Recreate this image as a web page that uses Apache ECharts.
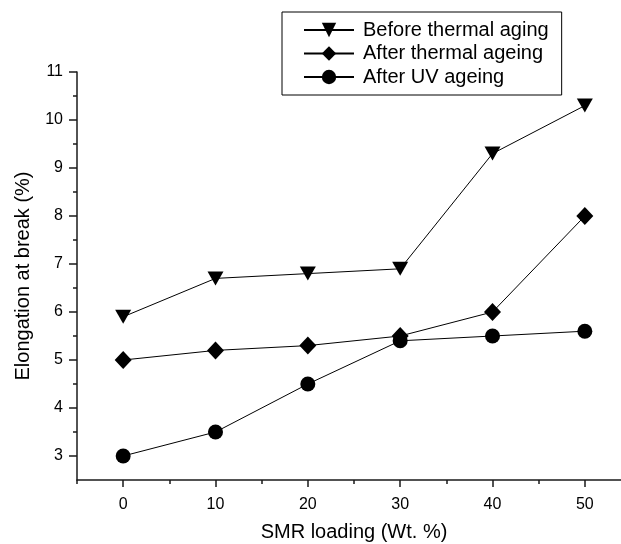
<!DOCTYPE html>
<html>
<head>
<meta charset="utf-8">
<script src="https://cdn.jsdelivr.net/npm/echarts@6/dist/echarts.min.js"></script>
<style>
  html, body { margin: 0; padding: 0; background: #fff; }
  #chart { width: 621px; height: 544px; }
</style>
</head>
<body>
<div id="chart"></div>
<script>
// SMR loading (Wt. %) on the x axis
var loading = [0, 10, 20, 30, 40, 50];
// elongation at break (%)
var beforeThermal = [5.9, 6.7, 6.8, 6.9, 9.3, 10.3];
var afterThermal = [5.0, 5.2, 5.3, 5.5, 6.0, 8.0];
var afterUV = [3.0, 3.5, 4.5, 5.4, 5.5, 5.6];
// tick positions
var xMajor = [0, 10, 20, 30, 40, 50];
var xMinor = [-5, 5, 15, 25, 35, 45, 55];
var yMajor = [3, 4, 5, 6, 7, 8, 9, 10, 11];
var yMinor = [3.5, 4.5, 5.5, 6.5, 7.5, 8.5, 9.5, 10.5];

var chart = echarts.init(document.getElementById('chart'));
var font = "'Liberation Sans', Arial, sans-serif";
var axisColor = '#1a1a1a';

function pairs(vals) {
  var out = [];
  for (var i = 0; i < loading.length; i++) {
    out.push([loading[i], vals[i]]);
  }
  return out;
}

var option = {
  animation: false,
  textStyle: { fontFamily: font, color: '#000' },
  grid: {
    left: 77,
    right: -10,
    top: 72,
    bottom: 64,
    containLabel: false,
    outerBoundsMode: 'none'
  },
  legend: {
    orient: 'vertical',
    left: 282,
    top: 12,
    padding: [8, 13, 8, 21],
    borderColor: '#000',
    borderWidth: 1,
    itemWidth: 50,
    itemHeight: 18,
    itemGap: 3.5,
    textStyle: { fontFamily: font, fontSize: 20, color: '#000', lineHeight: 20, padding: [0, 0, 0, 4] },
    data: ['Before thermal aging', 'After thermal ageing', 'After UV ageing']
  },
  xAxis: [
    {
      type: 'value',
      min: -5,
      max: 55,
      name: 'SMR loading (Wt. %)',
      nameLocation: 'middle',
      nameGap: 42,
      nameTextStyle: { fontFamily: font, fontSize: 20, color: '#000' },
      axisLine: { show: true, onZero: false, lineStyle: { color: axisColor, width: 1.5 } },
      axisTick: { show: true, length: 7, customValues: xMajor, lineStyle: { color: axisColor, width: 1.5 } },
      axisLabel: { customValues: xMajor, margin: 17, fontSize: 16, color: '#000', fontFamily: font },
      splitLine: { show: false }
    },
    {
      type: 'value',
      min: -5,
      max: 55,
      position: 'bottom',
      axisLine: { show: false, onZero: false },
      axisTick: { show: true, length: 4, customValues: xMinor, lineStyle: { color: axisColor, width: 1.5 } },
      axisLabel: { show: false },
      splitLine: { show: false }
    }
  ],
  yAxis: [
    {
      type: 'value',
      min: 2.5,
      max: 11,
      name: 'Elongation at break (%)',
      nameLocation: 'middle',
      nameGap: 44,
      nameTextStyle: { fontFamily: font, fontSize: 20, color: '#000' },
      axisLine: { show: true, onZero: false, lineStyle: { color: axisColor, width: 1.5 } },
      axisTick: { show: true, length: 8, customValues: yMajor, lineStyle: { color: axisColor, width: 1.5 } },
      axisLabel: { customValues: yMajor, margin: 14, fontSize: 16, color: '#000', fontFamily: font },
      splitLine: { show: false }
    },
    {
      type: 'value',
      min: 2.5,
      max: 11,
      position: 'left',
      axisLine: { show: false, onZero: false },
      axisTick: { show: true, length: 4, customValues: yMinor, lineStyle: { color: axisColor, width: 1.5 } },
      axisLabel: { show: false },
      splitLine: { show: false }
    }
  ],
  series: [
    {
      name: 'Before thermal aging',
      type: 'line',
      data: pairs(beforeThermal),
      symbol: 'triangle',
      symbolRotate: 180,
      symbolSize: [16, 14],
      itemStyle: { color: '#000' },
      lineStyle: { color: '#000', width: 1 }
    },
    {
      name: 'After thermal ageing',
      type: 'line',
      data: pairs(afterThermal),
      symbol: 'diamond',
      symbolSize: [17, 18],
      itemStyle: { color: '#000' },
      lineStyle: { color: '#000', width: 1 }
    },
    {
      name: 'After UV ageing',
      type: 'line',
      data: pairs(afterUV),
      symbol: 'circle',
      symbolSize: 15,
      itemStyle: { color: '#000' },
      lineStyle: { color: '#000', width: 1 }
    }
  ]
};

chart.setOption(option);
window.addEventListener('resize', function () {
  chart.resize();
});
</script>
</body>
</html>
